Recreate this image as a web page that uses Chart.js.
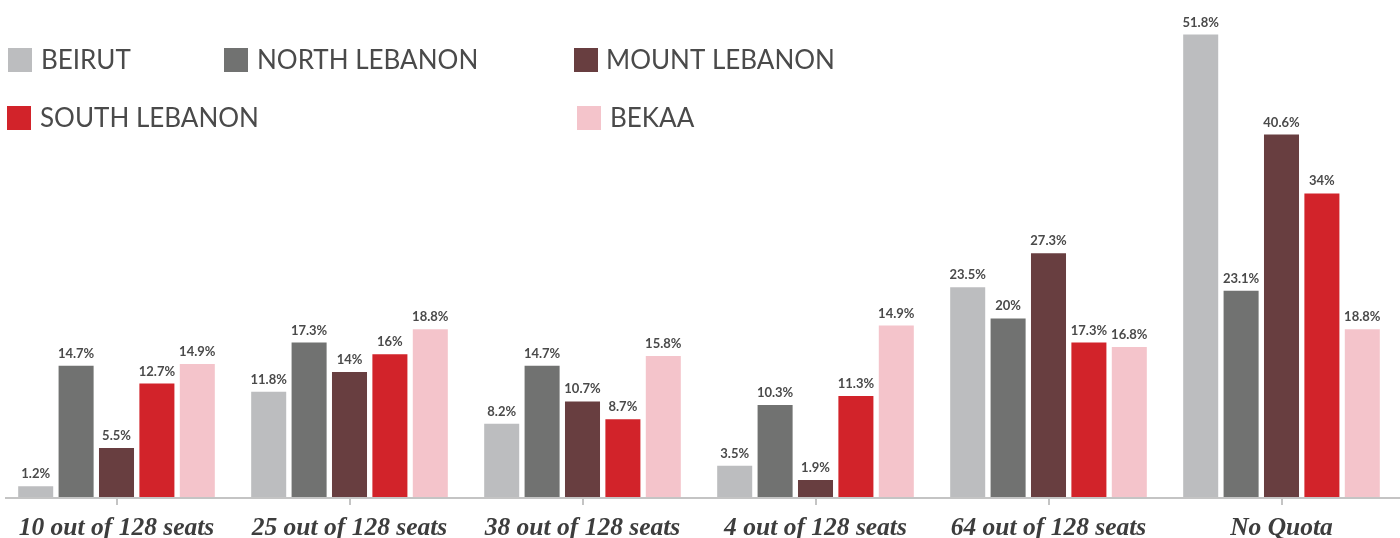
<!DOCTYPE html>
<html>
<head>
<meta charset="utf-8">
<script src="https://cdn.jsdelivr.net/npm/chart.js@4/dist/chart.umd.min.js"></script>
<style>
html,body{margin:0;padding:0;background:#fff;overflow:hidden;}
#wrap{width:1400px;height:538px;position:relative;}
</style>
</head>
<body>
<div id="wrap"><canvas id="c" width="1400" height="538"></canvas></div>
<script>
const categories = ["10 out of 128 seats","25 out of 128 seats","38 out of 128 seats","4 out of 128 seats","64 out of 128 seats","No Quota"];
const seriesNames = ["BEIRUT","NORTH LEBANON","MOUNT LEBANON","SOUTH LEBANON","BEKAA"];
const beirut = [1.2, 11.8, 8.2, 3.5, 23.5, 51.8];
const northLebanon = [14.7, 17.3, 14.7, 10.3, 20, 23.1];
const mountLebanon = [5.5, 14, 10.7, 1.9, 27.3, 40.6];
const southLebanon = [12.7, 16, 8.7, 11.3, 17.3, 34];
const bekaa = [14.9, 18.8, 15.8, 19.2, 16.8, 18.8];          // bar heights as drawn
const bekaaLabels = ["14.9%","18.8%","15.8%","14.9%","16.8%","18.8%"]; // printed labels
const colors = ["#bcbdbf","#717271","#683e40","#d2232a","#f4c4cb"];

const seriesData = [beirut, northLebanon, mountLebanon, southLebanon, bekaa];
const labelText = seriesData.map((arr, i) => i === 4 ? bekaaLabels : arr.map(v => v + "%"));

const legendPos = [
  {x:8, y:60, tx:41}, {x:224, y:60, tx:257}, {x:574, y:60, tx:606},
  {x:7, y:118, tx:40}, {x:577, y:118, tx:610}
];

const valueLabels = {
  id:'valueLabels',
  afterDatasetsDraw(chart){
    const ctx = chart.ctx;
    ctx.save();
    ctx.font = 'bold 13px Lato';
    ctx.fillStyle = '#4a4a4a';
    ctx.textAlign = 'center';
    ctx.textBaseline = 'alphabetic';
    chart.data.datasets.forEach((ds, di) => {
      const meta = chart.getDatasetMeta(di);
      meta.data.forEach((bar, i) => {
        ctx.fillText(labelText[di][i], bar.x, bar.y - 8);
      });
    });
    ctx.restore();
  }
};

const axisLine = {
  id:'axisLine',
  beforeDatasetsDraw(chart){
    const ctx = chart.ctx;
    const y = chart.chartArea.bottom + 1;
    ctx.save();
    ctx.strokeStyle = '#c4c4c4';
    ctx.lineWidth = 2;
    ctx.beginPath();
    ctx.moveTo(5, y);
    ctx.lineTo(1400, y);
    ctx.stroke();
    ctx.restore();
  }
};

const customLegend = {
  id:'customLegend',
  afterDraw(chart){
    const ctx = chart.ctx;
    ctx.save();
    ctx.font = '26px Lato';
    ctx.textBaseline = 'middle';
    ctx.textAlign = 'left';
    seriesNames.forEach((n, i) => {
      const p = legendPos[i];
      ctx.fillStyle = colors[i];
      ctx.fillRect(p.x, p.y - 12, 24, 24);
      ctx.fillStyle = '#4a4a4a';
      ctx.fillText(n, p.tx, p.y + 1);
    });
    ctx.restore();
  }
};

new Chart(document.getElementById('c'), {
  type:'bar',
  data:{
    labels: categories,
    datasets: seriesNames.map((n, i) => ({
      label:n,
      data: seriesData[i],
      backgroundColor: colors[i],
      borderWidth:0,
      categoryPercentage:0.867,
      barPercentage:0.867
    }))
  },
  options:{
    responsive:false,
    animation:false,
    layout:{padding:{left:0, right:2, top:6, bottom:0}},
    plugins:{legend:{display:false}, tooltip:{enabled:false}},
    scales:{
      x:{
        afterFit(scale){ scale.height = 41; },
        grid:{display:true, drawOnChartArea:false, drawTicks:true, tickLength:8, offset:false, color:'#c4c4c4', lineWidth:2},
        border:{display:false},
        ticks:{font:{family:'Liberation Serif', style:'italic', weight:'bold', size:25.5}, color:'#3d3d3d', padding:8}
      },
      y:{
        display:false,
        min:0, max:55
      }
    }
  },
  plugins:[axisLine, valueLabels, customLegend]
});
</script>
</body>
</html>
